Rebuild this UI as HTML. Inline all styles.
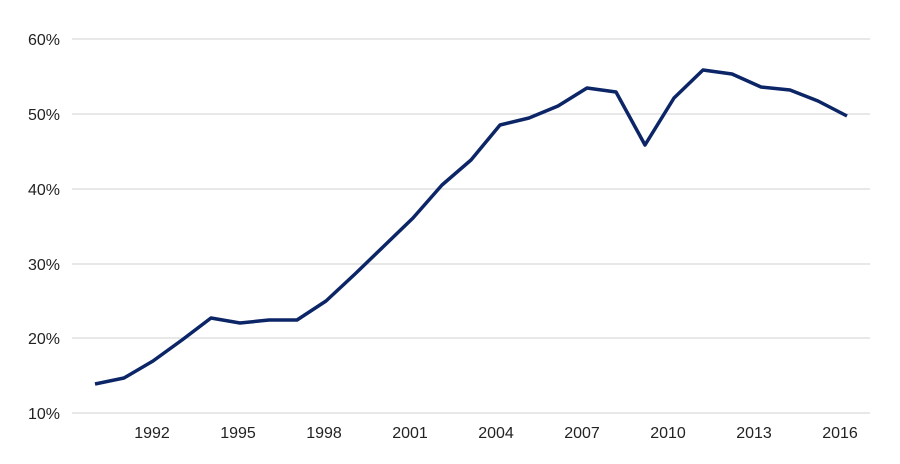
<!DOCTYPE html>
<html><head><style>body{margin:0;background:#fff}</style></head><body>
<svg width="900" height="459" xmlns="http://www.w3.org/2000/svg" font-family="Liberation Sans, sans-serif" font-size="16" fill="#222">
<g stroke="#d9d9d9" stroke-width="1.2">
<line x1="72" x2="870" y1="39" y2="39"/><line x1="72" x2="870" y1="114" y2="114"/><line x1="72" x2="870" y1="189" y2="189"/><line x1="72" x2="870" y1="264" y2="264"/><line x1="72" x2="870" y1="338" y2="338"/><line x1="72" x2="870" y1="413" y2="413"/>
</g>
<g text-anchor="end">
<text x="60" y="45">60%</text><text x="60" y="120">50%</text><text x="60" y="195">40%</text><text x="60" y="270">30%</text><text x="60" y="344">20%</text><text x="60" y="419">10%</text>
</g>
<g text-anchor="middle">
<text x="152" y="438">1992</text><text x="238" y="438">1995</text><text x="324" y="438">1998</text><text x="410" y="438">2001</text><text x="496" y="438">2004</text><text x="582" y="438">2007</text><text x="668" y="438">2010</text><text x="754" y="438">2013</text><text x="840" y="438">2016</text>
</g>
<polyline fill="none" stroke="#0b2566" stroke-width="3.5" stroke-linejoin="round" points="95,384 124,378 153,361 182,340 211,318 240,323 269,320 297,320 326,301 355,274 384,246 413,218 442,185 471,160 500,125 529,118 558,106 587,88 616,92 645,145 674,98 703,70 732,74 761,87 790,90 818,101 847,116"/>
</svg>
</body></html>
